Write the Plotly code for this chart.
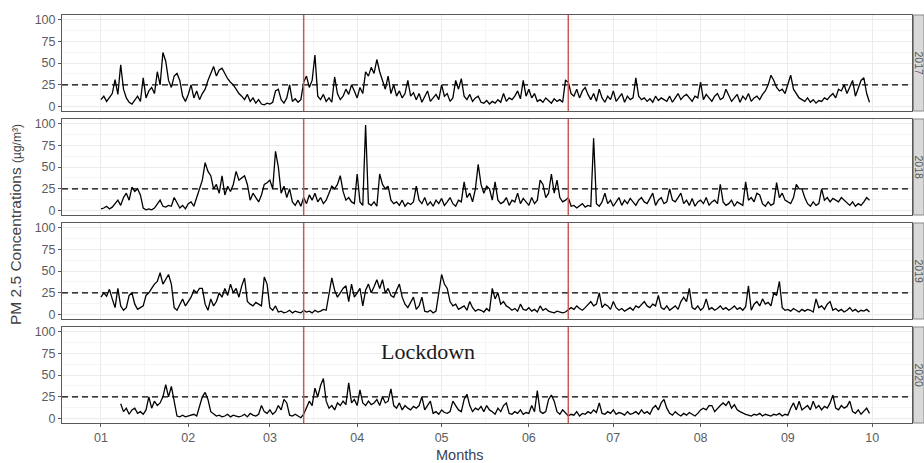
import pandas as pd
import plotly.graph_objects as go

# ---------------- data (daily values) ----------------
years = ["2017", "2018", "2019", "2020"]

pm_2017 = [
    8, 12, 6, 10, 15, 31, 14, 48, 20, 10,
    5, 3, 8, 12, 6, 33, 10, 18, 22, 15,
    40, 25, 62, 52, 30, 22, 35, 38, 30, 12,
    6, 14, 25, 10, 18, 8, 15, 20, 30, 38,
    46, 35, 42, 44, 38, 32, 28, 25, 20, 15,
    12, 8, 14, 6, 10, 4, 8, 3, 2, 4,
    3, 5, 18, 20, 8, 4, 10, 25, 6, 9,
    5, 8, 28, 35, 22, 30, 59, 12, 8, 14,
    6, 10, 5, 34, 15, 8, 12, 20, 14, 25,
    18, 10, 22, 15, 40, 35, 45, 38, 54, 40,
    30, 20, 35, 15, 25, 12, 18, 10, 15, 30,
    12, 16, 8, 15, 5, 12, 18, 6, 10, 14,
    8, 25, 12, 15, 6, 10, 30, 20, 32, 12,
    8, 14, 6, 10, 12, 5, 4, 7, 3, 6,
    4, 8, 5, 15, 6, 10, 8, 12, 18, 9,
    30, 12, 20, 10, 15, 6, 8, 5, 10, 7,
    4, 9, 6, 8, 5, 30, 28, 15, 12, 20,
    10, 18, 22, 14, 8, 15, 6, 20, 10, 5,
    12, 8, 18, 6, 10, 15, 5, 12, 8, 10,
    33, 12, 8, 10, 6, 9, 5, 12, 7, 10,
    8, 6, 12, 5, 10, 15, 8, 12, 14, 10,
    6, 12, 10, 28, 8, 14, 10, 6, 12, 15,
    8, 10, 20, 12, 6, 10, 14, 5, 12, 8,
    15, 6, 10, 12, 8, 14, 18, 25, 36, 30,
    22, 18, 20, 15, 25, 36, 20, 15, 10, 8,
    6, 10, 5, 8, 4, 7, 6, 10, 8, 12,
    15, 10, 20, 18, 25, 15, 22, 30, 12, 20,
    30, 33, 15, 5,
]

pm_2018 = [
    2, 3, 5, 2, 4, 8, 12, 6, 15, 20,
    12, 27, 22, 25, 18, 3, 1, 2, 1, 3,
    8, 12, 5, 4, 6, 5, 15, 8, 3, 6,
    2, 8, 10, 5, 15, 25, 35, 55, 45, 40,
    25, 30, 20, 40, 18, 28, 22, 30, 45, 35,
    38, 40, 30, 12, 20, 15, 10, 18, 30, 32,
    35, 25, 68, 50, 20, 28, 15, 25, 10, 6,
    12, 5, 15, 8, 18, 12, 20, 10, 15, 8,
    12, 20, 28, 25, 30, 40, 22, 12, 15, 10,
    8, 42, 10, 6, 98, 8, 6, 10, 5, 42,
    30, 25, 28, 12, 8, 10, 6, 12, 5, 9,
    7, 10, 28, 12, 8, 15, 6, 10, 5, 12,
    8, 14, 6, 10, 15, 8, 5, 12, 10, 33,
    15, 20, 10, 25, 53, 30, 20, 28, 25, 12,
    33, 12, 8, 10, 15, 6, 12, 10, 20, 8,
    14, 10, 6, 15, 8, 12, 35, 30, 15, 20,
    42, 20, 35, 15, 10, 12, 15, 5, 6, 3,
    5, 8, 4, 6, 5, 83, 8, 5, 10, 20,
    8, 12, 5, 10, 15, 6, 12, 8, 14, 10,
    6, 12, 15, 10, 8, 14, 20, 6, 12, 15,
    8, 10, 25, 12, 10, 15, 20, 8, 12, 6,
    14, 5, 10, 12, 8, 15, 6, 10, 12, 8,
    30, 10, 6, 8, 12, 5, 10, 8, 6, 33,
    12, 15, 10, 20, 18, 8, 5, 10, 6, 8,
    32, 15, 20, 12, 10, 8, 15, 30, 25, 25,
    15, 8, 5, 10, 6, 8, 25, 12, 15, 10,
    14, 12, 10, 15, 12, 8, 6, 10, 5, 8,
    6, 10, 15, 12,
]

pm_2019 = [
    20, 25, 21, 29, 18, 8, 30, 10, 5, 8,
    22, 25, 12, 6, 8, 10, 22, 25, 30, 35,
    38, 48, 35, 40, 46, 35, 8, 5, 12, 18,
    10, 15, 20, 28, 25, 30, 30, 12, 5, 18,
    10, 15, 25, 20, 30, 22, 35, 25, 30, 20,
    33, 42, 15, 12, 10, 14, 12, 10, 43, 35,
    8, 5, 10, 3, 4, 2, 3, 5, 2, 4,
    3, 2, 5, 3, 4, 2, 5, 3, 4, 6,
    5, 25, 42, 28, 20, 25, 30, 33, 15, 35,
    20, 25, 30, 10, 28, 35, 25, 32, 40, 30,
    40, 25, 30, 22, 20, 28, 35, 20, 12, 8,
    15, 20, 6, 10, 20, 4, 3, 5, 2, 4,
    25, 46, 35, 30, 15, 10, 12, 6, 8, 10,
    5, 15, 8, 4, 6, 5, 3, 7, 4, 30,
    18, 25, 12, 15, 10, 8, 5, 7, 4, 12,
    6, 5, 8, 4, 6, 3, 10, 5, 7, 4,
    3, 2, 4, 3, 2, 3, 5, 8, 6, 10,
    7, 5, 8, 12, 15, 10, 12, 25, 8, 12,
    10, 6, 15, 8, 5, 7, 4, 6, 8, 5,
    10, 8, 12, 15, 10, 8, 12, 10, 22, 8,
    6, 10, 5, 8, 10, 6, 15, 20, 15, 30,
    8, 6, 10, 5, 8, 18, 6, 8, 5, 7,
    10, 6, 8, 5, 7, 10, 6, 8, 5, 9,
    33, 5, 12, 15, 10, 18, 12, 14, 10, 25,
    22, 38, 8, 5, 6, 4, 7, 5, 3, 6,
    4, 6, 5, 3, 18, 8, 10, 6, 12, 15,
    5, 7, 4, 6, 3, 5, 8, 4, 6, 3,
    5, 4, 6, 3,
]

pm_2020 = [
    None, None, None, None, None, None, None, 17, 8, 12,
    5, 10, 12, 6, 8, 5, 10, 25, 12, 20,
    15, 18, 25, 39, 25, 37, 20, 3, 2, 4,
    2, 3, 4, 5, 3, 15, 25, 30, 22, 8,
    5, 3, 4, 2, 3, 5, 2, 4, 3, 2,
    3, 5, 2, 6, 4, 3, 5, 15, 8, 6,
    10, 5, 8, 15, 10, 22, 18, 4, 3, 5,
    3, 1, 5, 12, 20, 15, 35, 25, 38, 46,
    20, 12, 15, 10, 18, 15, 20, 16, 41, 18,
    22, 15, 33, 18, 15, 20, 16, 18, 22, 15,
    25, 18, 20, 34, 15, 12, 18, 10, 15, 12,
    10, 14, 12, 15, 25, 10, 15, 20, 6, 8,
    5, 10, 7, 6, 8, 20, 15, 10, 8, 22,
    28, 15, 8, 12, 10, 14, 8, 15, 10, 8,
    5, 12, 8, 15, 18, 6, 5, 8, 6, 10,
    5, 7, 6, 15, 8, 32, 8, 6, 8, 22,
    27, 20, 8, 5, 10, 6, 3, 5, 4, 8,
    3, 6, 5, 8, 6, 10, 7, 18, 6, 5,
    8, 6, 10, 5, 7, 6, 4, 8, 5, 6,
    8, 5, 10, 6, 8, 5, 12, 15, 10, 18,
    22, 12, 6, 4, 8, 5, 3, 6, 4, 7,
    5, 3, 6, 10, 12, 10, 15, 15, 8, 12,
    15, 18, 15, 20, 12, 16, 10, 8, 6, 5,
    4, 3, 5, 4, 6, 3, 5, 4, 3, 5,
    4, 6, 3, 5, 4, 12, 18, 10, 20, 10,
    12, 15, 10, 20, 12, 15, 10, 14, 12, 18,
    27, 12, 10, 15, 12, 14, 20, 8, 6, 10,
    5, 8, 12, 6,
]

month_ticks = ["2020-01-01", "2020-02-01", "2020-03-01", "2020-04-01", "2020-05-01",
               "2020-06-01", "2020-07-01", "2020-08-01", "2020-09-01", "2020-10-01"]
month_labels = ["01", "02", "03", "04", "05", "06", "07", "08", "09", "10"]
y_ticks = [0, 25, 50, 75, 100]
lockdown_dates = ["2020-03-13", "2020-06-15"]
guideline = 25
annotation_text = "Lockdown"
y_title = "PM 2.5 Concentrations"
y_unit = "(µg/m³)"
x_title = "Months"

series = [pm_2017, pm_2018, pm_2019, pm_2020]
days = pd.date_range("2020-01-01", periods=len(pm_2017), freq="D")

# ---------------- layout geometry ----------------
W, H = 924, 463
px_left, px_right = 62, 912
tops = [15, 119, 223, 327]
ph = 96
start = pd.Timestamp(month_ticks[0])
x_range = [start + pd.Timedelta(days=-13.85), start + pd.Timedelta(days=288.1)]
mt = pd.to_datetime(month_ticks)
minor_x = [mt[i] + (mt[i + 1] - mt[i]) / 2 for i in range(len(mt) - 1)]
minor_y = [(y_ticks[i] + y_ticks[i + 1]) / 2 for i in range(len(y_ticks) - 1)]

FONT = "Liberation Sans, Arial, sans-serif"
TICK_COL = "#5c5c5c"
BORDER = "#5a5a5a"
GRID = "#EBEBEB"
GRID_MINOR = "#F5F5F5"
RED = "#C8585A"

fig = go.Figure()
layout = dict(
    width=W, height=H, autosize=False,
    margin=dict(l=0, r=0, t=0, b=0, autoexpand=False),
    paper_bgcolor="white", plot_bgcolor="white",
    showlegend=False,
    font=dict(family=FONT, size=12, color=TICK_COL),
)
shapes = []
annotations = []

for i, (yr, vals) in enumerate(zip(years, series)):
    n = "" if i == 0 else str(i + 1)
    xa, ya = "x" + n, "y" + n
    fig.add_trace(go.Scatter(
        x=days, y=vals, mode="lines",
        line=dict(color="black", width=1.3),
        xaxis=xa, yaxis=ya, hoverinfo="skip", connectgaps=False,
    ))
    top, bot = tops[i], tops[i] + ph
    last = i == len(years) - 1
    layout["xaxis" + n] = dict(
        domain=[px_left / W, px_right / W], anchor=ya, type="date",
        range=x_range, tickmode="array", tickvals=month_ticks,
        ticktext=month_labels, showticklabels=last,
        ticks="outside" if last else "", ticklen=3, tickcolor=BORDER,
        tickfont=dict(size=12.5, color=TICK_COL),
        showgrid=True, gridcolor=GRID, gridwidth=1,
        minor=dict(tickmode="array", tickvals=minor_x, showgrid=True,
                   gridcolor=GRID_MINOR, gridwidth=1, ticks=""),
        showline=True, mirror=True, linecolor=BORDER, linewidth=1,
        zeroline=False, fixedrange=True, automargin=False,
    )
    layout["yaxis" + n] = dict(
        domain=[1 - bot / H, 1 - top / H], anchor=xa,
        range=[-5, 105], tickmode="array", tickvals=y_ticks,
        ticks="outside", ticklen=3, tickcolor=BORDER,
        tickfont=dict(size=12.5, color=TICK_COL),
        showgrid=True, gridcolor=GRID, gridwidth=1,
        minor=dict(tickmode="array", tickvals=minor_y, showgrid=True,
                   gridcolor=GRID_MINOR, gridwidth=1, ticks=""),
        showline=True, mirror=True, linecolor=BORDER, linewidth=1,
        zeroline=False, fixedrange=True, automargin=False,
    )
    # guideline
    shapes.append(dict(type="line", xref=xa + " domain", x0=0, x1=1,
                       yref=ya, y0=guideline, y1=guideline,
                       line=dict(color="black", width=1.3, dash="6px,4px")))
    # lockdown boundaries
    for d in lockdown_dates:
        shapes.append(dict(type="line", xref=xa, x0=d, x1=d,
                           yref=ya + " domain", y0=0, y1=1,
                           line=dict(color=RED, width=1.5)))
    # facet strip
    shapes.append(dict(type="rect", xref="paper", yref="paper",
                       x0=913.5 / W, x1=1.0, y0=1 - bot / H, y1=1 - top / H,
                       fillcolor="#D9D9D9", line=dict(color="#8a8a8a", width=1)))
    annotations.append(dict(text=yr, xref="paper", yref="paper",
                            x=918.5 / W, y=1 - (top + ph / 2) / H,
                            xanchor="center", yanchor="middle", showarrow=False,
                            textangle=90, font=dict(size=10.5, color="#555555")))

annotations.append(dict(
    text=annotation_text, xref="x4", yref="y4", x="2020-04-26", y=77,
    showarrow=False, xanchor="center", yanchor="middle",
    font=dict(family="Liberation Serif, Times New Roman, serif", size=22, color="#1a1a1a"),
))
annotations.append(dict(
    text=y_title + " <span style='font-size:12px'>" + y_unit + "</span>",
    xref="paper", yref="paper", x=15 / W, y=1 - 225 / H,
    xanchor="center", yanchor="middle", showarrow=False, textangle=-90,
    font=dict(size=15.5, color="#3f3f3f"),
))
annotations.append(dict(
    text=x_title, xref="paper", yref="paper", x=460 / W, y=1 - 455 / H,
    xanchor="center", yanchor="middle", showarrow=False,
    font=dict(size=14.5, color="#3a4150"),
))

layout["shapes"] = shapes
layout["annotations"] = annotations
fig.update_layout(**layout)
fig.write_html(
    "out.html",
    config={"displayModeBar": False, "staticPlot": True},
    post_script="document.body.style.margin='0px';document.body.style.overflow='hidden';",
)
